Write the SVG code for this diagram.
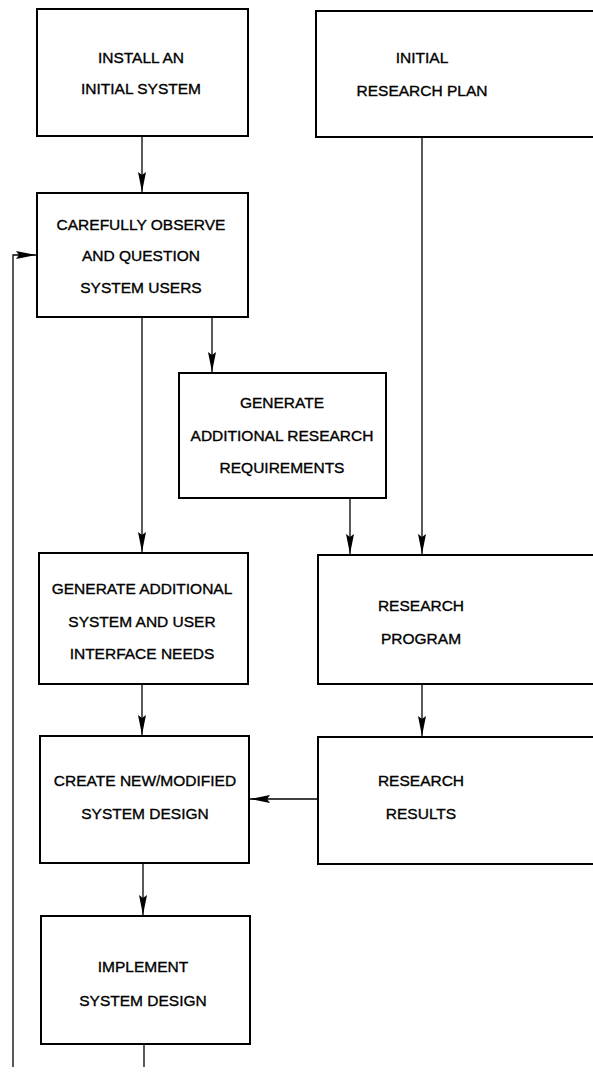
<svg xmlns="http://www.w3.org/2000/svg" width="593" height="1074" viewBox="0 0 593 1074">
<style>
.box{fill:#fff;stroke:#000;stroke-width:2}
.lbl{font-family:"Liberation Sans",Arial,Helvetica,sans-serif;font-size:15.5px;fill:#000;stroke:#000;stroke-width:0.35;text-anchor:middle}
.con{fill:none;stroke:#000;stroke-width:1.3}
</style>
<defs>
<marker id="ah" markerUnits="userSpaceOnUse" markerWidth="22" markerHeight="10" refX="20" refY="4" orient="auto">
<path d="M0,0 L20,4 L0,8 L3,4 z" fill="#000"/>
</marker>
</defs>
<rect width="593" height="1074" fill="#fff"/>
<g id="connectors">
<line class="con" x1="142" y1="136" x2="142" y2="192" marker-end="url(#ah)"/>
<line class="con" x1="422" y1="137" x2="422" y2="554" marker-end="url(#ah)"/>
<line class="con" x1="212" y1="317" x2="212" y2="372" marker-end="url(#ah)"/>
<line class="con" x1="142" y1="317" x2="142" y2="552" marker-end="url(#ah)"/>
<line class="con" x1="350" y1="498" x2="350" y2="554" marker-end="url(#ah)"/>
<line class="con" x1="142" y1="684" x2="142" y2="735" marker-end="url(#ah)"/>
<line class="con" x1="422" y1="684" x2="422" y2="736" marker-end="url(#ah)"/>
<line class="con" x1="318" y1="799" x2="250" y2="799" marker-end="url(#ah)"/>
<line class="con" x1="143" y1="863" x2="143" y2="915" marker-end="url(#ah)"/>
<line class="con" x1="144" y1="1044" x2="144" y2="1067"/>
<polyline class="con" points="13,1067 13,255 36,255" marker-end="url(#ah)"/>
</g>
<g id="n1">
<rect class="box" x="37" y="9" width="211" height="127"/>
<text class="lbl" x="141" y="63">INSTALL AN</text>
<text class="lbl" x="141" y="94">INITIAL SYSTEM</text>
</g>
<g id="n2">
<rect class="box" x="316" y="11" width="300" height="126"/>
<text class="lbl" x="422" y="63">INITIAL</text>
<text class="lbl" x="422" y="96">RESEARCH PLAN</text>
</g>
<g id="n3">
<rect class="box" x="37" y="193" width="211" height="124"/>
<text class="lbl" x="141" y="230">CAREFULLY OBSERVE</text>
<text class="lbl" x="141" y="261">AND QUESTION</text>
<text class="lbl" x="141" y="293">SYSTEM USERS</text>
</g>
<g id="n4">
<rect class="box" x="179" y="373" width="207" height="125"/>
<text class="lbl" x="282" y="408">GENERATE</text>
<text class="lbl" x="282" y="441">ADDITIONAL RESEARCH</text>
<text class="lbl" x="282" y="473">REQUIREMENTS</text>
</g>
<g id="n5">
<rect class="box" x="39" y="553" width="209" height="131"/>
<text class="lbl" x="142" y="594">GENERATE ADDITIONAL</text>
<text class="lbl" x="142" y="627">SYSTEM AND USER</text>
<text class="lbl" x="142" y="659">INTERFACE NEEDS</text>
</g>
<g id="n6">
<rect class="box" x="318" y="555" width="300" height="129"/>
<text class="lbl" x="421" y="611">RESEARCH</text>
<text class="lbl" x="421" y="644">PROGRAM</text>
</g>
<g id="n7">
<rect class="box" x="40" y="736" width="209" height="127"/>
<text class="lbl" x="145" y="786">CREATE NEW/MODIFIED</text>
<text class="lbl" x="145" y="819">SYSTEM DESIGN</text>
</g>
<g id="n8">
<rect class="box" x="318" y="737" width="300" height="127"/>
<text class="lbl" x="421" y="786">RESEARCH</text>
<text class="lbl" x="421" y="819">RESULTS</text>
</g>
<g id="n9">
<rect class="box" x="41" y="916" width="209" height="128"/>
<text class="lbl" x="143" y="972">IMPLEMENT</text>
<text class="lbl" x="143" y="1006">SYSTEM DESIGN</text>
</g>
</svg>
